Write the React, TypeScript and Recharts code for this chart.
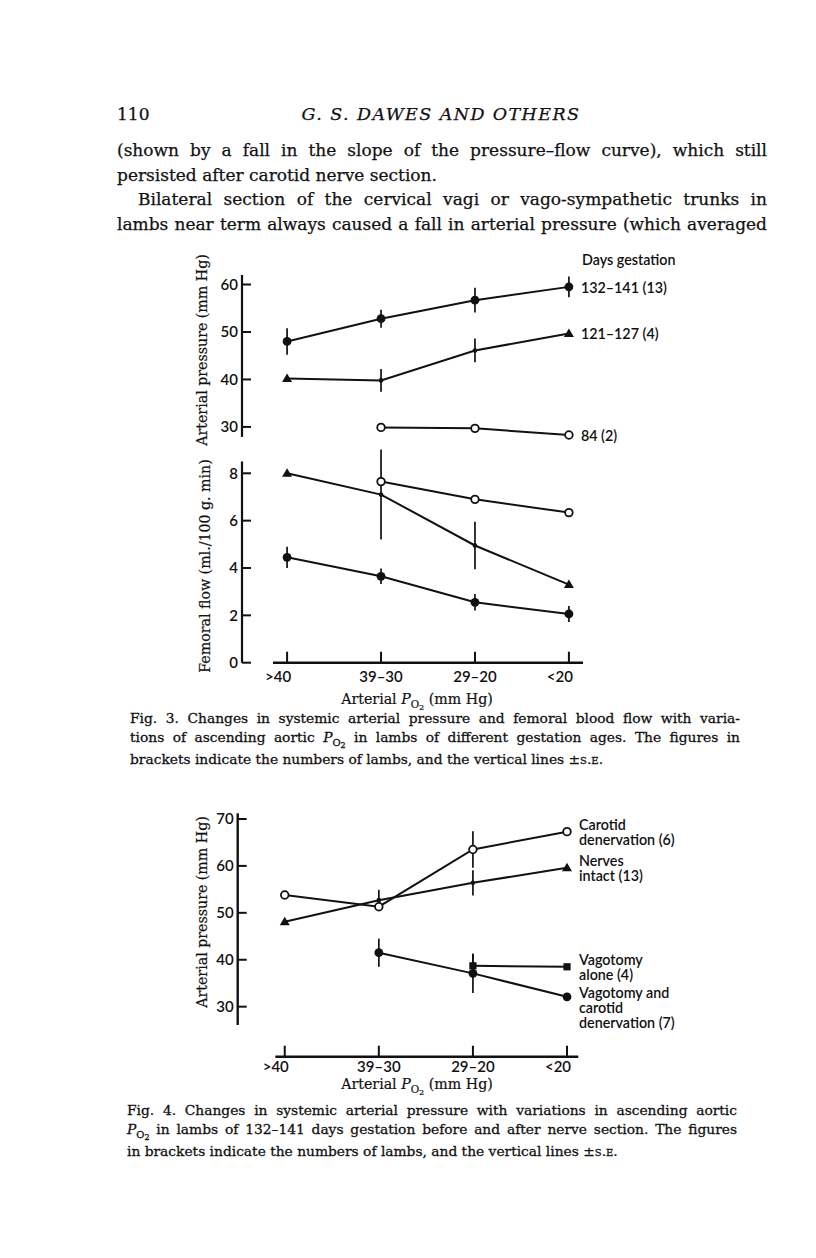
import React from 'react';
import { ComposedChart, Line, XAxis, YAxis, ReferenceLine } from 'recharts';

// ---------- data ----------
const poCategories = ['>40', '39–30', '29–20', '<20'];
const poTicks = [0, 1, 2, 3];

// Fig. 3 – arterial pressure (mm Hg)
const pressureTicks3 = [30, 40, 50, 60];
const press132 = [48.0, 52.8, 56.7, 59.5];
const press132Se = [2.8, 1.9, 2.6, 2.2];
const press121 = [40.2, 39.8, 46.1, 49.7];
const press121Se = [0, 2.4, 2.5, 0];
const press84 = [null, 29.9, 29.7, 28.3];
const press84Se = [0, 0, 0, 0];

// Fig. 3 – femoral flow (ml./100 g. min)
const flowTicks = [0, 2, 4, 6, 8];
const flow132 = [4.45, 3.65, 2.55, 2.06];
const flow132Se = [0.45, 0.33, 0.35, 0.34];
const flow121 = [8.0, 7.1, 4.95, 3.3];
const flow121Se = [0, 1.9, 1.0, 0];
const flow84 = [null, 7.65, 6.9, 6.34];
const flow84Se = [0, 0, 0, 0];

const label132 = ['132–141 (13)'];
const label121 = ['121–127 (4)'];
const label84 = ['84 (2)'];

// Fig. 4 – arterial pressure (mm Hg)
const pressureTicks4 = [30, 40, 50, 60, 70];
const carotidDen = [53.8, 51.3, 63.5, 67.3];
const carotidDenSe = [0, 0, 3.9, 0];
const nervesIntact = [48.1, 52.7, 56.4, 59.6];
const nervesIntactSe = [0, 2.2, 2.7, 0];
const vagAlone = [null, null, 38.7, 38.5];
const vagAloneSe = [0, 0, 2.6, 0];
const vagCarotid = [null, 41.5, 37.1, 32.1];
const vagCarotidSe = [0, 3.0, 4.2, 0];

const labelCarotid = ['Carotid', 'denervation (6)'];
const labelIntact = ['Nerves', 'intact (13)'];
const labelVagAlone = ['Vagotomy', 'alone (4)'];
const labelVagCarotid = ['Vagotomy and', 'carotid', 'denervation (7)'];

// ---------- styling ----------
const INK = '#111111';
const SANS = 'Lato, "Open Sans", sans-serif';
const SERIF = '"DejaVu Serif", "Liberation Serif", serif';

type Marker = 'filled' | 'open' | 'triangle' | 'square';
interface SeriesDef {
  key: string;
  values: (number | null)[];
  se: number[];
  marker: Marker;
  label: string[];
}

const firstIdx = (vals: (number | null)[]) => vals.findIndex((v) => v != null);
const lastIdx = (vals: (number | null)[]) => {
  let k = -1;
  vals.forEach((v, i) => {
    if (v != null) k = i;
  });
  return k;
};

function makeDot(s: SeriesDef) {
  const last = lastIdx(s.values);
  const first = firstIdx(s.values);
  const lineGap = 15;
  return (props: any) => {
    const { cx, cy, index } = props;
    const v = s.values[index];
    const k = `${s.key}-dot-${index}`;
    if (v == null || cx == null || cy == null) return <g key={k} />;
    let mark: React.ReactNode = null;
    if (s.marker === 'filled') mark = <circle cx={cx} cy={cy} r={4.4} fill={INK} />;
    else if (s.marker === 'open')
      mark = <circle cx={cx} cy={cy} r={3.8} fill="#fff" stroke={INK} strokeWidth={1.8} />;
    else if (s.marker === 'square')
      mark = <rect x={cx - 3.6} y={cy - 3.6} width={7.2} height={7.2} fill={INK} />;
    else if (index === first || index === last)
      mark = (
        <polygon
          points={`${cx},${cy - 5} ${cx + 5},${cy + 3.5} ${cx - 5},${cy + 3.5}`}
          fill={INK}
        />
      );
    else mark = <circle cx={cx} cy={cy} r={2.3} fill={INK} />;
    const n = s.label.length;
    const startDy = n >= 3 ? -5 : -((n - 1) * lineGap) / 2;
    return (
      <g key={k}>
        {mark}
        {index === last && (
          <text
            fontFamily={SANS}
            fontSize={14.3}
            fontWeight={600}
            fill={INK}
            dominantBaseline="central"
          >
            {s.label.map((t, j) => (
              <tspan key={j} x={cx + 12} y={cy + startDy + j * lineGap}>
                {t}
              </tspan>
            ))}
          </text>
        )}
      </g>
    );
  };
}

function errorBars(s: SeriesDef) {
  return s.values.map((v, i) =>
    v != null && s.se[i] > 0 ? (
      <ReferenceLine
        key={`${s.key}-se-${i}`}
        segment={[
          { x: poTicks[i], y: v - s.se[i] },
          { x: poTicks[i], y: v + s.se[i] },
        ]}
        stroke={INK}
        strokeWidth={1.7}
        ifOverflow="visible"
      />
    ) : null
  );
}

// x tick: inequality symbols hang to the left of the number
function XTick(props: any) {
  const { x, y, payload } = props;
  const text = poCategories[payload.value] ?? '';
  const hang = text.startsWith('>') || text.startsWith('<') ? -9 : 0;
  return (
    <text
      x={x + hang}
      y={y}
      dy="0.71em"
      textAnchor="middle"
      fontFamily={SANS}
      fontSize={15}
      fontWeight={600}
      fill={INK}
    >
      {text}
    </text>
  );
}

interface PanelProps {
  box: { left: number; top: number; width: number; height: number };
  margin: { top: number; right: number; bottom: number; left: number };
  xDomain: [number, number];
  yDomain: [number, number];
  yTicks: number[];
  series: SeriesDef[];
  showXAxis: boolean;
  xLabelMargin?: number;
  xLineRange?: [number, number];
  yLineRange?: [number, number];
  yAxisLine: boolean;
}

const tickStyle = { fontFamily: SANS, fontSize: 15, fill: INK, fontWeight: 600 };

function Panel(p: PanelProps) {
  const data = poTicks.map((x, i) => {
    const row: Record<string, number | null> = { x };
    p.series.forEach((s) => {
      row[s.key] = s.values[i];
    });
    return row;
  });
  return (
    <div style={{ position: 'absolute', left: p.box.left, top: p.box.top }}>
      <ComposedChart width={p.box.width} height={p.box.height} data={data} margin={p.margin}>
        <XAxis
          type="number"
          dataKey="x"
          domain={p.xDomain}
          ticks={poTicks}
          interval={0}
          hide={!p.showXAxis}
          axisLine={false}
          tickSize={-11}
          tickMargin={p.xLabelMargin ?? 20}
          tickLine={{ stroke: INK, strokeWidth: 2 }}
          tick={<XTick />}
          height={30}
        />
        <YAxis
          type="number"
          domain={p.yDomain}
          ticks={p.yTicks}
          interval={0}
          width={60}
          axisLine={p.yAxisLine ? { stroke: INK, strokeWidth: 2.2 } : false}
          tickSize={-9}
          tickMargin={13}
          tickLine={{ stroke: INK, strokeWidth: 2 }}
          tick={tickStyle}
        />
        {p.xLineRange && (
          <ReferenceLine
            segment={[
              { x: p.xLineRange[0], y: p.yDomain[0] },
              { x: p.xLineRange[1], y: p.yDomain[0] },
            ]}
            stroke={INK}
            strokeWidth={2.4}
            ifOverflow="visible"
          />
        )}
        {p.yLineRange && (
          <ReferenceLine
            segment={[
              { x: p.xDomain[0], y: p.yLineRange[0] },
              { x: p.xDomain[0], y: p.yLineRange[1] },
            ]}
            stroke={INK}
            strokeWidth={2.4}
            ifOverflow="visible"
          />
        )}
        {p.series.flatMap((s) => errorBars(s))}
        {p.series.map((s) => (
          <Line
            key={s.key}
            type="linear"
            dataKey={s.key}
            stroke={INK}
            strokeWidth={2}
            dot={makeDot(s)}
            activeDot={false}
            isAnimationActive={false}
          />
        ))}
      </ComposedChart>
    </div>
  );
}

// ---------- text helpers ----------
const Po2 = () => (
  <>
    <i>P</i>
    <span style={{ fontSize: '0.72em', position: 'relative', top: '0.35em' }}>
      O<span style={{ fontSize: '0.8em', position: 'relative', top: '0.3em' }}>2</span>
    </span>
  </>
);

const jLine: React.CSSProperties = {
  textAlign: 'justify',
  textAlignLast: 'justify',
  whiteSpace: 'nowrap',
};

function YTitle({ cx, cy, text }: { cx: number; cy: number; text: string }) {
  return (
    <div
      style={{
        position: 'absolute',
        left: cx,
        top: cy,
        transform: 'translate(-50%, -50%) rotate(-90deg)',
        whiteSpace: 'nowrap',
        fontFamily: SERIF,
        fontSize: 14.2,
        color: INK,
        lineHeight: '16px',
        WebkitTextStroke: '0.2px #111',
      }}
    >
      {text}
    </div>
  );
}

function XTitle({ cx, cy }: { cx: number; cy: number }) {
  return (
    <div
      style={{
        position: 'absolute',
        left: cx - 150,
        top: cy - 9,
        width: 300,
        textAlign: 'center',
        fontFamily: SERIF,
        fontSize: 14.2,
        color: INK,
        lineHeight: '18px',
        whiteSpace: 'nowrap',
        WebkitTextStroke: '0.2px #111',
      }}
    >
      Arterial <Po2 /> (mm Hg)
    </div>
  );
}

export default function App() {
  const fig3Pressure: SeriesDef[] = [
    { key: 'p132', values: press132, se: press132Se, marker: 'filled', label: label132 },
    { key: 'p121', values: press121, se: press121Se, marker: 'triangle', label: label121 },
    { key: 'p84', values: press84, se: press84Se, marker: 'open', label: label84 },
  ];
  const fig3Flow: SeriesDef[] = [
    { key: 'f132', values: flow132, se: flow132Se, marker: 'filled', label: [] },
    { key: 'f121', values: flow121, se: flow121Se, marker: 'triangle', label: [] },
    { key: 'f84', values: flow84, se: flow84Se, marker: 'open', label: [] },
  ];
  const fig4: SeriesDef[] = [
    { key: 'cd', values: carotidDen, se: carotidDenSe, marker: 'open', label: labelCarotid },
    { key: 'ni', values: nervesIntact, se: nervesIntactSe, marker: 'triangle', label: labelIntact },
    { key: 'va', values: vagAlone, se: vagAloneSe, marker: 'square', label: labelVagAlone },
    { key: 'vc', values: vagCarotid, se: vagCarotidSe, marker: 'filled', label: labelVagCarotid },
  ];

  const bodyFont: React.CSSProperties = {
    fontFamily: SERIF,
    fontSize: 17,
    lineHeight: '24.5px',
    color: INK,
    WebkitTextStroke: '0.25px #111',
  };
  const capFont: React.CSSProperties = {
    fontFamily: SERIF,
    fontSize: 13.8,
    lineHeight: '19.3px',
    color: INK,
    WebkitTextStroke: '0.3px #111',
  };

  return (
    <div
      style={{
        position: 'absolute',
        left: 0,
        top: 0,
        width: 816,
        height: 1258,
        background: '#fff',
        overflow: 'hidden',
      }}
    >
      {/* running head */}
      <div style={{ position: 'absolute', left: 117, top: 102, ...bodyFont, lineHeight: '24px' }}>110</div>
      <div
        style={{
          position: 'absolute',
          left: 241,
          top: 102,
          width: 400,
          textAlign: 'center',
          ...bodyFont,
          fontSize: 17.5,
          lineHeight: '24px',
          fontStyle: 'italic',
          letterSpacing: 1.4,
        }}
      >
        G. S. DAWES AND OTHERS
      </div>

      {/* body text */}
      <div style={{ position: 'absolute', left: 117, top: 138, width: 650, ...bodyFont }}>
        <div style={jLine}>(shown by a fall in the slope of the pressure–flow curve), which still</div>
        <div style={{ whiteSpace: 'nowrap' }}>persisted after carotid nerve section.</div>
        <div style={{ ...jLine, paddingLeft: 21 }}>
          Bilateral section of the cervical vagi or vago-sympathetic trunks in
        </div>
        <div style={jLine}>lambs near term always caused a fall in arterial pressure (which averaged</div>
      </div>

      {/* Fig. 3 */}
      <div
        style={{
          position: 'absolute',
          left: 582,
          top: 251,
          fontFamily: SANS,
          fontSize: 14.3,
          fontWeight: 600,
          lineHeight: '18px',
          color: INK,
          whiteSpace: 'nowrap',
        }}
      >
        Days gestation
      </div>
      <Panel
        box={{ left: 140, top: 240, width: 600, height: 220 }}
        margin={{ top: 35, right: 157, bottom: 23.1, left: 42 }}
        xDomain={[-0.48, 3.15]}
        yDomain={[27.9, 62]}
        yTicks={pressureTicks3}
        series={fig3Pressure}
        showXAxis={false}
        yAxisLine
      />
      <Panel
        box={{ left: 140, top: 440, width: 600, height: 290 }}
        margin={{ top: 21.45, right: 157, bottom: 37.3, left: 42 }}
        xDomain={[-0.48, 3.15]}
        yDomain={[0, 8.5]}
        yTicks={flowTicks}
        series={fig3Flow}
        showXAxis
        xLabelMargin={20}
        xLineRange={[-0.15, 3.15]}
        yAxisLine
      />
      <YTitle cx={201.5} cy={350} text="Arterial pressure (mm Hg)" />
      <YTitle cx={205} cy={566} text="Femoral flow (ml./100 g. min)" />
      <XTitle cx={417} cy={699} />

      <div style={{ position: 'absolute', left: 130, top: 709, width: 610, ...capFont }}>
        <div style={jLine}>
          Fig. 3. Changes in systemic arterial pressure and femoral blood flow with varia-
        </div>
        <div style={jLine}>
          tions of ascending aortic <Po2 /> in lambs of different gestation ages. The figures in
        </div>
        <div style={{ whiteSpace: 'nowrap' }}>
          brackets indicate the numbers of lambs, and the vertical lines{' '}
          <span>±</span>
          <span style={{ fontVariant: 'small-caps' }}>s.e.</span>
        </div>
      </div>

      {/* Fig. 4 */}
      <Panel
        box={{ left: 140, top: 790, width: 610, height: 320 }}
        margin={{ top: 23.3, right: 171.7, bottom: 23.3, left: 37.7 }}
        xDomain={[-0.5, 3.12]}
        yDomain={[19.34, 71.21]}
        yTicks={pressureTicks4}
        series={fig4}
        showXAxis
        xLabelMargin={16}
        xLineRange={[-0.1, 3.12]}
        yLineRange={[26.1, 71.21]}
        yAxisLine={false}
      />
      <YTitle cx={201.5} cy={912} text="Arterial pressure (mm Hg)" />
      <XTitle cx={417} cy={1084} />

      <div style={{ position: 'absolute', left: 127, top: 1101, width: 610, ...capFont }}>
        <div style={jLine}>
          Fig. 4. Changes in systemic arterial pressure with variations in ascending aortic
        </div>
        <div style={jLine}>
          <Po2 /> in lambs of 132–141 days gestation before and after nerve section. The figures
        </div>
        <div style={{ whiteSpace: 'nowrap' }}>
          in brackets indicate the numbers of lambs, and the vertical lines{' '}
          <span>±</span>
          <span style={{ fontVariant: 'small-caps' }}>s.e.</span>
        </div>
      </div>
    </div>
  );
}
